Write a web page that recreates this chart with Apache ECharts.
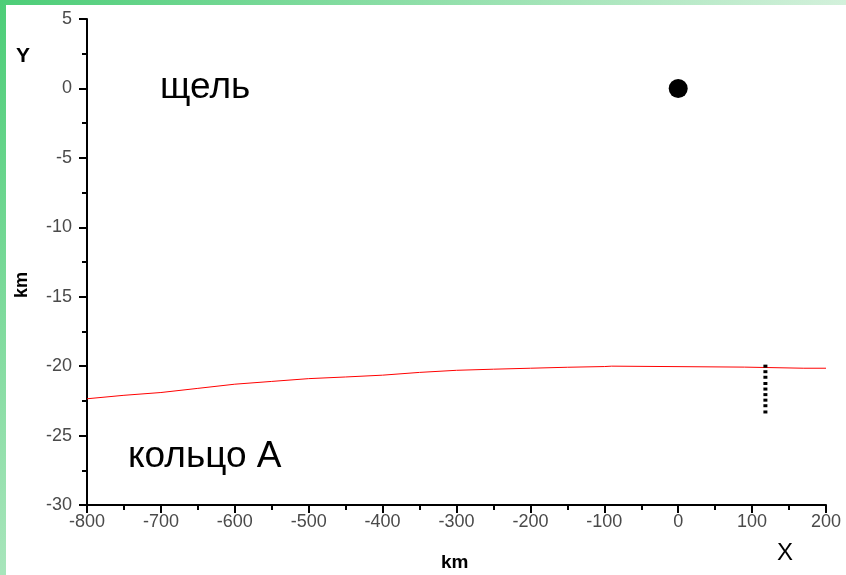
<!DOCTYPE html>
<html>
<head>
<meta charset="utf-8">
<script src="https://cdn.jsdelivr.net/npm/echarts@6/dist/echarts.min.js"></script>
<style>
  html, body { margin: 0; padding: 0; }
  body {
    width: 846px; height: 575px; position: relative; overflow: hidden;
    background: linear-gradient(135deg, #4ccd77 0%, #d8f2df 62%, #e2f6e7 100%);
  }
  #paper { position: absolute; left: 6px; top: 5px; right: 0; bottom: 0; background: #fff; }
  #chart { position: absolute; left: 0; top: 0; width: 846px; height: 575px; }
</style>
</head>
<body>
<div id="paper"></div>
<div id="chart"></div>
<script>
// Ring A edge profile (x in km, y in km)
const ringX = [-800, -750, -700, -650, -600, -550, -500, -450, -400, -350, -300, -250, -200, -150, -100, -90, 90, 170, 200];
const ringY = [-22.35, -22.1, -21.9, -21.6, -21.3, -21.1, -20.9, -20.78, -20.65, -20.45, -20.3, -20.22, -20.15, -20.08, -20.03, -20.0, -20.07, -20.15, -20.15];

// Occulted star track (dotted vertical)
const trackX = [118, 118, 118, 118, 118, 118, 118, 118, 118];
const trackY = [-20.0, -20.4, -20.8, -21.25, -21.65, -22.05, -22.45, -22.85, -23.3];

// Moonlet in the gap
const bodyX = [0];
const bodyY = [0];

const xTicks = { min: -800, max: 200, step: 100 };
const yTicks = { min: -30, max: 5, step: 5 };

const zip = (a, b) => a.map((v, i) => [v, b[i]]);

const chart = echarts.init(document.getElementById('chart'), null, { renderer: 'canvas' });

const FONT = 'Liberation Sans, Arial, sans-serif';

const axisCommon = {
  axisLine: { show: true, onZero: false, lineStyle: { color: '#000', width: 2 } },
  axisTick: { show: true, inside: false, length: 8, lineStyle: { color: '#000', width: 2 } },
  minorTick: { show: true, splitNumber: 2, length: 5, lineStyle: { color: '#000', width: 2 } },
  splitLine: { show: false },
  axisLabel: { color: '#4a4a4a', fontFamily: FONT, fontSize: 18 }
};

chart.setOption({
  backgroundColor: 'transparent',
  animation: false,
  grid: { left: 87, right: 20, top: 19, bottom: 70, containLabel: false },
  xAxis: Object.assign({}, axisCommon, {
    type: 'value', min: xTicks.min, max: xTicks.max, interval: xTicks.step,
    axisLabel: Object.assign({}, axisCommon.axisLabel, { margin: 8 })
  }),
  yAxis: Object.assign({}, axisCommon, {
    type: 'value', min: yTicks.min, max: yTicks.max, interval: yTicks.step,
    axisLabel: Object.assign({}, axisCommon.axisLabel, { margin: 15 })
  }),
  series: [
    {
      type: 'line', data: zip(ringX, ringY), showSymbol: false, symbol: 'none',
      lineStyle: { color: '#ff0000', width: 1 }, z: 2
    },
    {
      type: 'scatter', data: zip(trackX, trackY), symbol: 'rect', symbolSize: [4, 3],
      itemStyle: { color: '#000', opacity: 1 }, z: 3
    },
    {
      type: 'scatter', data: zip(bodyX, bodyY), symbol: 'circle', symbolSize: 19,
      itemStyle: { color: '#000', opacity: 1 }, z: 3
    }
  ],
  graphic: [
    { type: 'text', left: 16, top: 46, style: { text: 'Y', font: 'bold 21px ' + FONT, fill: '#000' } },
    { type: 'text', x: 22, y: 285, rotation: Math.PI / 2, style: { text: 'km', font: 'bold 18px ' + FONT, fill: '#000', align: 'center', verticalAlign: 'middle' } },
    { type: 'text', left: 441, top: 553, style: { text: 'km', font: 'bold 19px ' + FONT, fill: '#000' } },
    { type: 'text', left: 777, top: 541, style: { text: 'X', font: '24px ' + FONT, fill: '#000' } },
    { type: 'text', left: 160, top: 69, style: { text: 'щель', font: '37px ' + FONT, fill: '#000' } },
    { type: 'text', left: 128, top: 438, style: { text: 'кольцо А', font: '37px ' + FONT, fill: '#000' } }
  ]
});
</script>
</body>
</html>
